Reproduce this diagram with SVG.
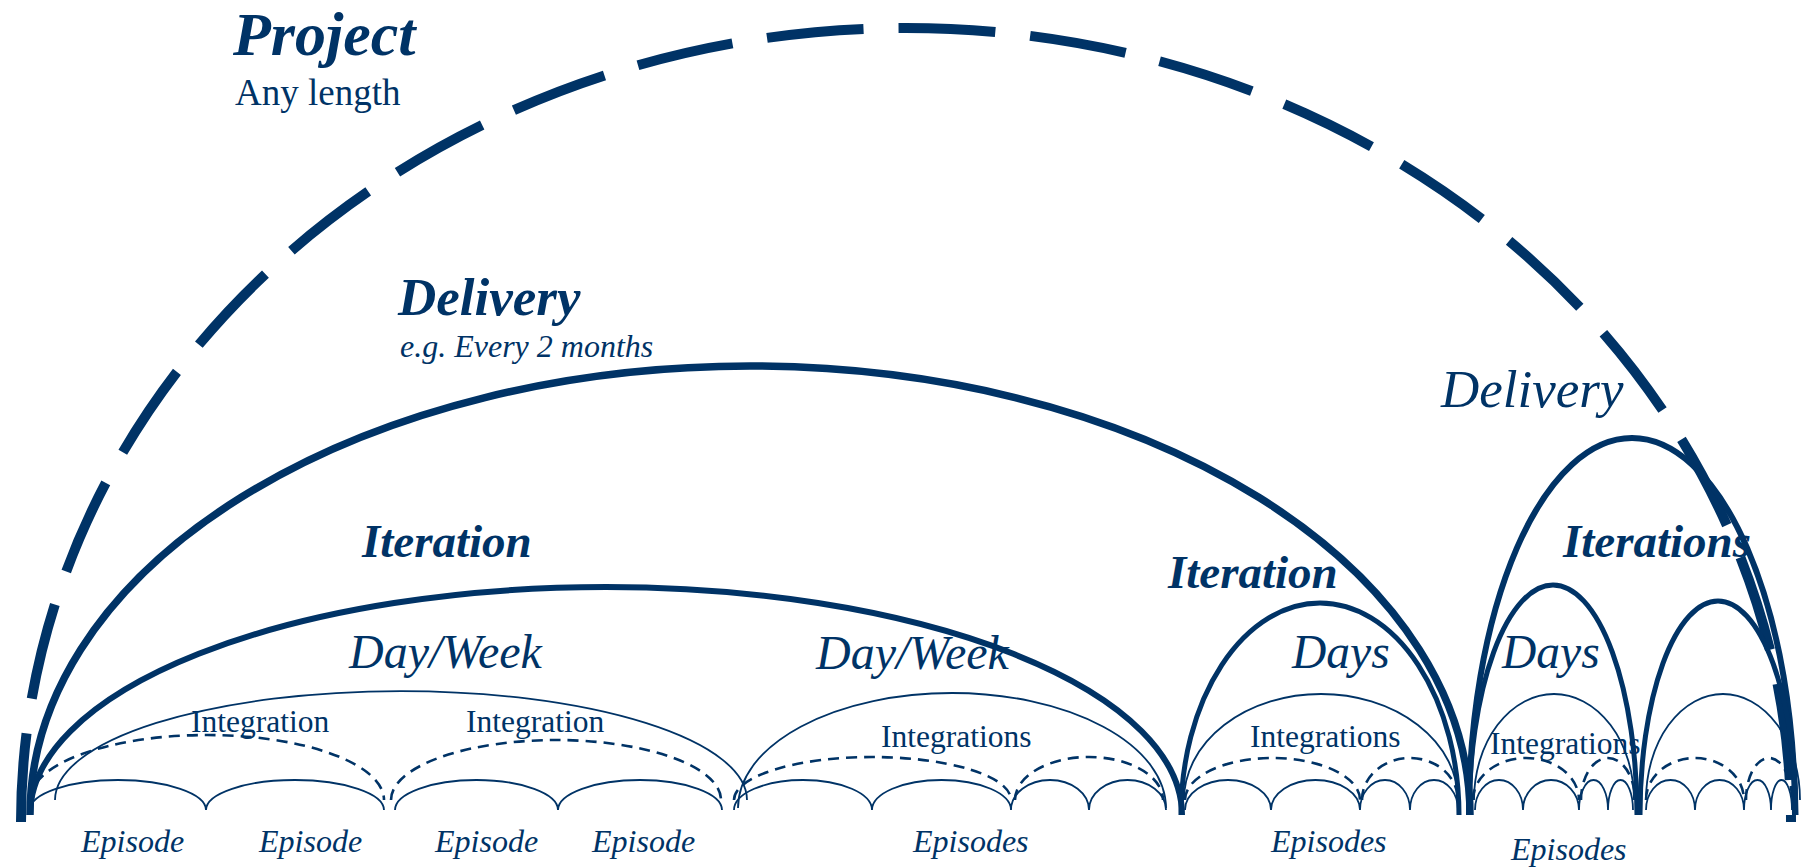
<svg xmlns="http://www.w3.org/2000/svg" width="1804" height="867" viewBox="0 0 1804 867">
<style>
  .arc { fill: none; stroke: #003366; }
  .proj { stroke-width: 10; stroke-dasharray: 97 35; stroke-dashoffset: 8; }
  .deliv { stroke-width: 7.5; }
  .iter { stroke-width: 6; }
  .days { stroke-width: 5; }
  .thin { stroke-width: 1.8; }
  .dash { stroke-width: 2.6; stroke-dasharray: 11 7; }
  .ep { stroke-width: 1.8; }
  text { font-family: "Liberation Serif", "Times New Roman", serif; fill: #003366; }
  .bi { font-weight: bold; font-style: italic; }
  .it { font-style: italic; }
</style>
<rect width="1804" height="867" fill="#ffffff"/>

<g id="connectors">
  <g id="project-arc">
    <path class="arc proj" d="M 21 822 A 885 794 0 0 1 1791 822"/>
  </g>
  <g id="delivery-arcs">
    <path class="arc deliv" d="M 30 815 A 720 449 0 0 1 1470 815"/>
    <path class="arc iter" d="M 1469 815 A 163 377 0 0 1 1795 815"/>
  </g>
  <g id="iteration-arcs">
    <path class="arc iter" d="M 30 815 A 576 228 0 0 1 1182 815"/>
    <path class="arc days" d="M 1181 815 A 139 212 0 0 1 1459 815"/>
    <path class="arc days" d="M 1469 815 A 84 230 0 0 1 1637 815"/>
    <path class="arc days" d="M 1640 815 A 78 214 0 0 1 1796 815"/>
  </g>
  <g id="day-arcs">
    <path class="arc thin" d="M 55 800 A 346 109 0 0 1 747 800"/>
    <path class="arc thin" d="M 738 808 A 214 115 0 0 1 1166 808"/>
    <path class="arc thin" d="M 1184 800 A 137 106 0 0 1 1458 800"/>
    <path class="arc thin" d="M 1474 800 A 80 106 0 0 1 1634 800"/>
    <path class="arc thin" d="M 1646 800 A 77 106 0 0 1 1800 800"/>
  </g>
  <g id="integration-arcs">
    <path class="arc dash" d="M 30 800 A 177 65 0 0 1 384 800"/>
    <path class="arc dash" d="M 391 800 A 165 60 0 0 1 721 800"/>
    <path class="arc dash" d="M 734 800 A 138.5 43 0 0 1 1011 800"/>
    <path class="arc dash" d="M 1015 800 A 74 43 0 0 1 1163 800"/>
    <path class="arc dash" d="M 1185 800 A 87.5 42 0 0 1 1360 800"/>
    <path class="arc dash" d="M 1362 800 A 48 42 0 0 1 1458 800"/>
    <path class="arc dash" d="M 1473 800 A 53 42 0 0 1 1579 800"/>
    <path class="arc dash" d="M 1581 800 A 27 42 0 0 1 1635 800"/>
    <path class="arc dash" d="M 1646 800 A 49 42 0 0 1 1744 800"/>
    <path class="arc dash" d="M 1746 800 A 23 42 0 0 1 1792 800"/>
  </g>
  <g id="episode-arcs">
    <path class="arc ep" d="M 30 810 A 88 30 0 0 1 206 810 A 89 30 0 0 1 384 810"/>
    <path class="arc ep" d="M 395 810 A 81.5 30 0 0 1 558 810 A 82 30 0 0 1 722 810"/>
    <path class="arc ep" d="M 734 810 A 69 30 0 0 1 872 810 A 69.5 30 0 0 1 1011 810 A 39 30 0 0 1 1089 810 A 38.5 30 0 0 1 1166 810"/>
    <path class="arc ep" d="M 1185 810 A 43 30 0 0 1 1271 810 A 44.5 30 0 0 1 1360 810 A 25 30 0 0 1 1410 810 A 24 30 0 0 1 1458 810"/>
    <path class="arc ep" d="M 1475 810 A 24 30 0 0 1 1523 810 A 28 30 0 0 1 1579 810 A 14.5 30 0 0 1 1608 810 A 12.5 30 0 0 1 1633 810"/>
    <path class="arc ep" d="M 1646 810 A 24.5 30 0 0 1 1695 810 A 24.5 30 0 0 1 1744 810 A 13.5 30 0 0 1 1771 810 A 10.5 30 0 0 1 1792 810"/>
  </g>
</g>

<g id="project">
  <text class="bi" x="233" y="55" font-size="62">Project</text>
  <text x="235" y="105" font-size="37">Any length</text>
</g>
<g id="delivery-left">
  <text class="bi" x="398" y="315" font-size="53">Delivery</text>
  <text class="it" x="400" y="357" font-size="32">e.g. Every 2 months</text>
</g>
<g id="delivery-right">
  <text class="it" x="1441" y="407" font-size="53">Delivery</text>
</g>
<g id="iteration-left">
  <text class="bi" x="362" y="557" font-size="47">Iteration</text>
</g>
<g id="iteration-mid">
  <text class="bi" x="1168" y="588" font-size="47">Iteration</text>
</g>
<g id="iterations-right">
  <text class="bi" x="1563" y="557" font-size="47">Iterations</text>
</g>
<g id="day-week-1">
  <text class="it" x="349" y="668" font-size="48">Day/Week</text>
</g>
<g id="day-week-2">
  <text class="it" x="816" y="669" font-size="48">Day/Week</text>
</g>
<g id="days-1">
  <text class="it" x="1292" y="668" font-size="47.5">Days</text>
</g>
<g id="days-2">
  <text class="it" x="1502" y="668" font-size="47.5">Days</text>
</g>
<g id="integration-1">
  <text x="191" y="732" font-size="31.5">Integration</text>
</g>
<g id="integration-2">
  <text x="466" y="732" font-size="31.5">Integration</text>
</g>
<g id="integrations-1">
  <text x="881" y="747" font-size="31.5">Integrations</text>
</g>
<g id="integrations-2">
  <text x="1250" y="747" font-size="31.5">Integrations</text>
</g>
<g id="integrations-3">
  <text x="1490" y="754" font-size="31.5">Integrations</text>
</g>
<g id="episodes">
  <text class="it" x="81" y="852" font-size="32">Episode</text>
  <text class="it" x="259" y="852" font-size="32">Episode</text>
  <text class="it" x="435" y="852" font-size="32">Episode</text>
  <text class="it" x="592" y="852" font-size="32">Episode</text>
  <text class="it" x="913" y="852" font-size="32">Episodes</text>
  <text class="it" x="1271" y="852" font-size="32">Episodes</text>
  <text class="it" x="1511" y="860" font-size="32">Episodes</text>
</g>
</svg>
